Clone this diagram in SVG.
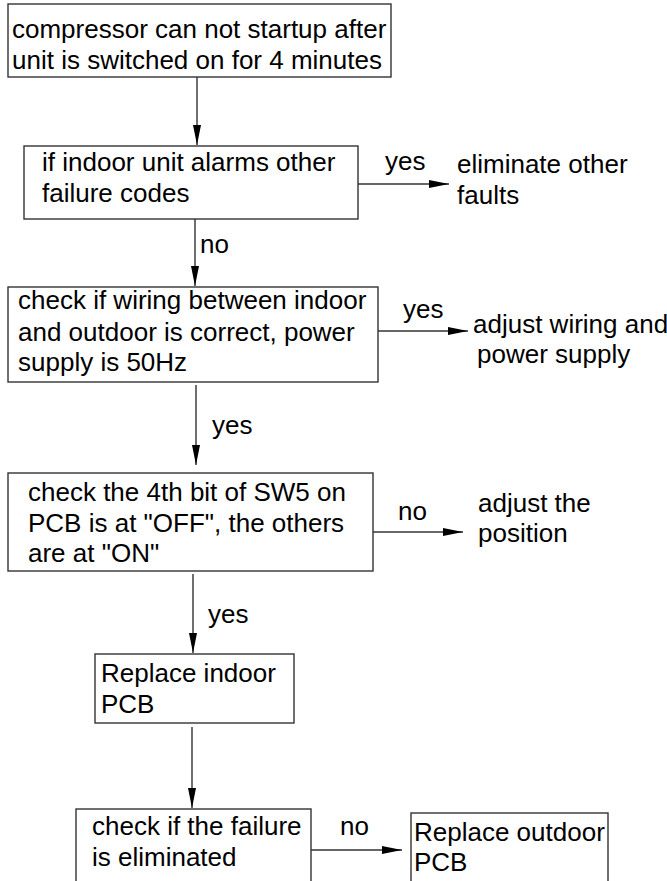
<svg xmlns="http://www.w3.org/2000/svg" width="667" height="881" viewBox="0 0 667 881">
<defs>
<style>
text{font-family:"Liberation Sans",Arial,Helvetica,sans-serif;font-size:26px;fill:#000}
.box{fill:#fff;stroke:#333;stroke-width:1.4}
.ln{fill:none;stroke:#333;stroke-width:1.4}
</style>
<marker id="ah" viewBox="0 0 20 8" markerWidth="20" markerHeight="8" refX="20" refY="4" orient="auto" markerUnits="userSpaceOnUse">
<path d="M0,0 L20,4 L0,8 z" fill="#000"/>
</marker>
</defs>
<rect width="667" height="881" fill="#fff"/>
<g id="connectors">
<line class="ln" x1="197" y1="77" x2="197" y2="145" marker-end="url(#ah)"/>
<line class="ln" x1="195" y1="219" x2="195" y2="286" marker-end="url(#ah)"/>
<line class="ln" x1="357" y1="184" x2="449" y2="184" marker-end="url(#ah)"/>
<line class="ln" x1="378" y1="331" x2="468" y2="331" marker-end="url(#ah)"/>
<line class="ln" x1="196" y1="385" x2="196" y2="465" marker-end="url(#ah)"/>
<line class="ln" x1="373" y1="532" x2="463" y2="532" marker-end="url(#ah)"/>
<line class="ln" x1="193" y1="574" x2="193" y2="653" marker-end="url(#ah)"/>
<line class="ln" x1="192" y1="727" x2="192" y2="808" marker-end="url(#ah)"/>
<line class="ln" x1="311" y1="850" x2="402" y2="850" marker-end="url(#ah)"/>
<text x="385" y="170">yes</text>
<text x="200" y="253">no</text>
<text x="403" y="318">yes</text>
<text x="212" y="434">yes</text>
<text x="398" y="520">no</text>
<text x="208" y="623">yes</text>
<text x="340" y="835">no</text>
</g>
<g id="n1">
<rect class="box" x="8" y="4" width="383" height="73"/>
<text x="12" y="38">compressor can not startup after</text>
<text x="12" y="69">unit is switched on for 4 minutes</text>
</g>
<g id="n2">
<rect class="box" x="24" y="146" width="334" height="73"/>
<text x="42" y="171">if indoor unit alarms other</text>
<text x="42" y="202">failure codes</text>
</g>
<g id="n2yes">
<text x="457" y="173">eliminate other</text>
<text x="457" y="204">faults</text>
</g>
<g id="n3">
<rect class="box" x="8" y="287" width="370" height="95"/>
<text x="18" y="309">check if wiring between indoor</text>
<text x="18" y="341">and outdoor is correct, power</text>
<text x="18" y="371">supply is 50Hz</text>
</g>
<g id="n3yes">
<text x="473" y="333">adjust wiring and</text>
<text x="477" y="363">power supply</text>
</g>
<g id="n4">
<rect class="box" x="8" y="473" width="365" height="98"/>
<text x="28" y="501">check the 4th bit of SW5 on</text>
<text x="28" y="532">PCB is at "OFF", the others</text>
<text x="28" y="562">are at "ON"</text>
</g>
<g id="n4no">
<text x="478" y="512">adjust the</text>
<text x="478" y="542">position</text>
</g>
<g id="n5">
<rect class="box" x="95" y="654" width="199" height="69"/>
<text x="101" y="682">Replace indoor</text>
<text x="101" y="713">PCB</text>
</g>
<g id="n6">
<rect class="box" x="76" y="809" width="235" height="100"/>
<text x="92" y="835">check if the failure</text>
<text x="92" y="866">is eliminated</text>
</g>
<g id="n7">
<rect class="box" x="411" y="813" width="197" height="100"/>
<text x="414" y="841">Replace outdoor</text>
<text x="414" y="871">PCB</text>
</g>
</svg>
